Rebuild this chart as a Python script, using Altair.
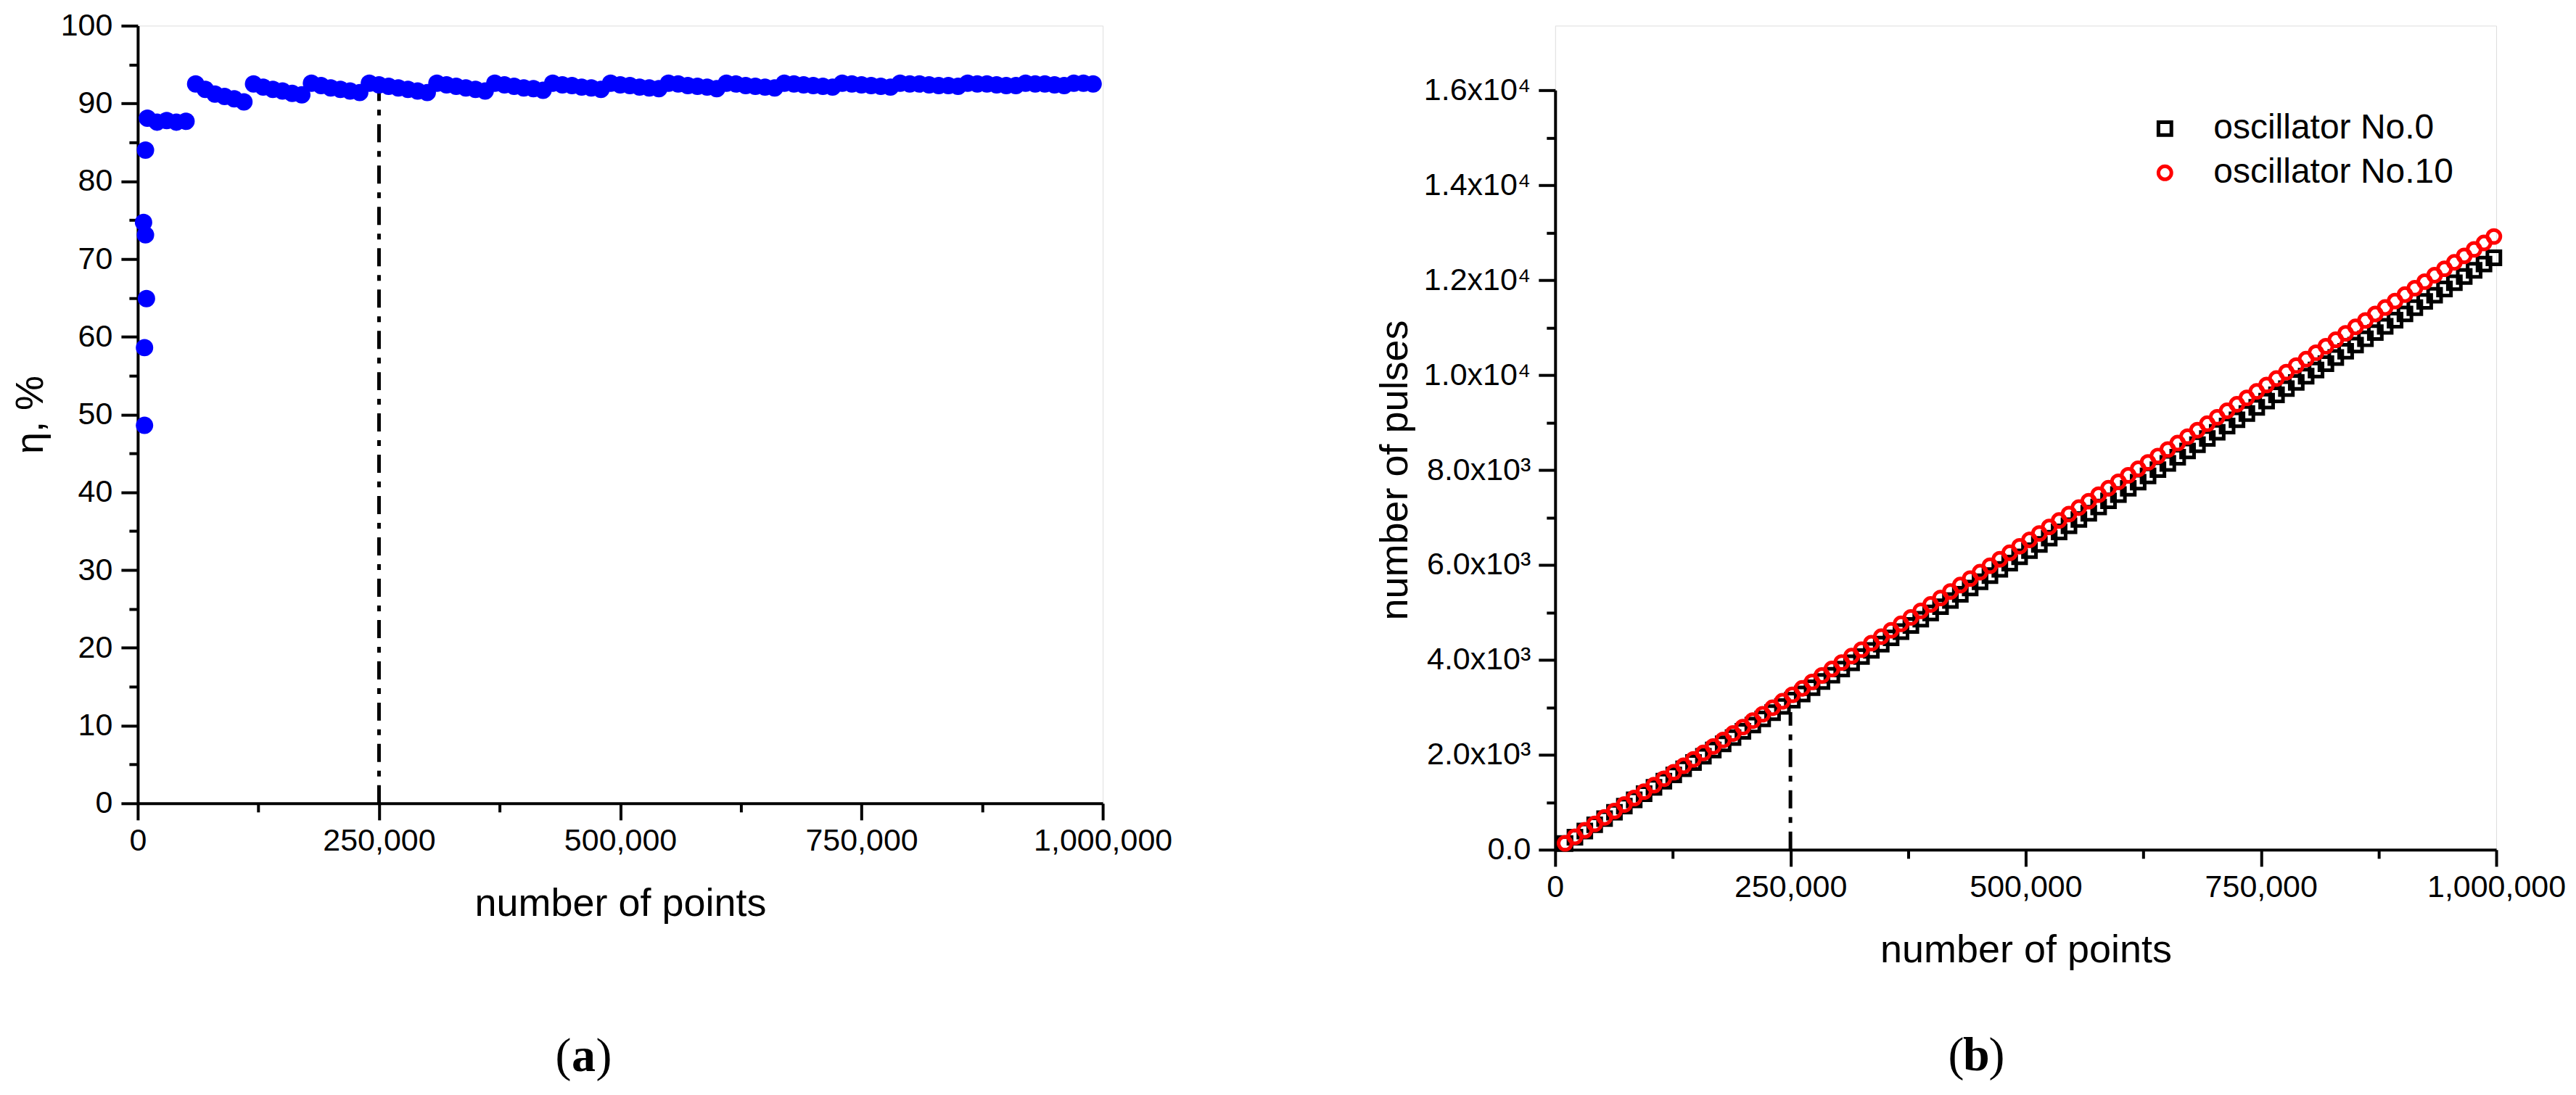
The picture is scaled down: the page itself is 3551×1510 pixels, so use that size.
import altair as alt
import pandas as pd

FONT = "Liberation Sans"
SERIF = "Liberation Serif"

# ---------------- panel (a): eta, % vs number of points ----------------
eta_x_thousands = [7, 7, 9, 6, 8, 8,
    10, 20, 30, 40, 50,
    60, 70, 80, 90, 100, 110,
    120, 130, 140, 150, 160, 170,
    180, 190, 200, 210, 220, 230,
    240, 250, 260, 270, 280, 290, 300,
    310, 320, 330, 340, 350, 360,
    370, 380, 390, 400, 410, 420,
    430, 440, 450, 460, 470, 480,
    490, 500, 510, 520, 530, 540,
    550, 560, 570, 580, 590, 600,
    610, 620, 630, 640, 650, 660,
    670, 680, 690, 700, 710, 720,
    730, 740, 750, 760, 770, 780,
    790, 800, 810, 820, 830, 840, 850,
    860, 870, 880, 890, 900, 910,
    920, 930, 940, 950, 960,
    970, 980, 990]
eta_values = [48.6, 58.6, 64.9, 74.7, 73.1, 84.0,
    88.1, 87.6, 87.8, 87.6, 87.7,
    92.5, 91.8, 91.2, 90.9, 90.6, 90.2,
    92.5, 92.1, 91.8, 91.6, 91.3, 91.1,
    92.6, 92.3, 92.0, 91.8, 91.6, 91.4,
    92.6, 92.4, 92.2, 92.0, 91.8, 91.6, 91.4,
    92.6, 92.4, 92.2, 92.0, 91.8, 91.6,
    92.6, 92.4, 92.2, 92.0, 91.9, 91.7,
    92.6, 92.4, 92.3, 92.1, 92.0, 91.8,
    92.6, 92.4, 92.3, 92.1, 92.0, 91.9,
    92.6, 92.5, 92.3, 92.2, 92.1, 91.9,
    92.6, 92.5, 92.3, 92.2, 92.1, 92.0,
    92.6, 92.5, 92.4, 92.3, 92.2, 92.1,
    92.6, 92.5, 92.4, 92.3, 92.2, 92.1,
    92.6, 92.5, 92.5, 92.4, 92.3, 92.3, 92.2,
    92.6, 92.5, 92.5, 92.4, 92.3, 92.3,
    92.6, 92.5, 92.5, 92.4, 92.3,
    92.6, 92.6, 92.5]

# ---------------- panel (b): number of pulses ----------------
pulse_x_thousands = [10.5, 21, 31.5, 42, 52.5, 63, 73.5, 84, 94.5, 105,
    115.5, 126, 136.5, 147, 157.5, 168, 178.5, 189, 199.5, 210,
    220.5, 231, 241.5, 252, 262.5, 273, 283.5, 294, 304.5, 315,
    325.5, 336, 346.5, 357, 367.5, 378, 388.5, 399, 409.5, 420,
    430.5, 441, 451.5, 462, 472.5, 483, 493.5, 504, 514.5, 525,
    535.5, 546, 556.5, 567, 577.5, 588, 598.5, 609, 619.5, 630,
    640.5, 651, 661.5, 672, 682.5, 693, 703.5, 714, 724.5, 735,
    745.5, 756, 766.5, 777, 787.5, 798, 808.5, 819, 829.5, 840,
    850.5, 861, 871.5, 882, 892.5, 903, 913.5, 924, 934.5, 945,
    955.5, 966, 976.5, 987, 997.5]
pulses_osc0 = [131, 263, 394, 525, 656, 788, 919, 1050, 1181, 1313,
    1444, 1575, 1706, 1838, 1969, 2100, 2231, 2363, 2494, 2625,
    2756, 2888, 3019, 3150, 3281, 3413, 3544, 3675, 3806, 3938,
    4069, 4200, 4331, 4463, 4594, 4725, 4856, 4988, 5119, 5250,
    5381, 5513, 5644, 5775, 5906, 6038, 6169, 6300, 6431, 6563,
    6694, 6825, 6956, 7088, 7219, 7350, 7481, 7613, 7744, 7875,
    8006, 8138, 8269, 8400, 8531, 8663, 8794, 8925, 9056, 9188,
    9319, 9450, 9581, 9713, 9844, 9975, 10106, 10238, 10369, 10500,
    10631, 10763, 10894, 11025, 11156, 11288, 11419, 11550, 11681, 11813,
    11944, 12075, 12206, 12338, 12469]
pulses_osc10 = [136, 272, 408, 544, 680, 816, 952, 1088, 1224, 1360,
    1496, 1632, 1768, 1904, 2040, 2176, 2312, 2448, 2584, 2720,
    2855, 2991, 3127, 3263, 3399, 3535, 3671, 3807, 3943, 4079,
    4215, 4351, 4487, 4623, 4759, 4895, 5031, 5167, 5303, 5439,
    5575, 5711, 5847, 5983, 6119, 6255, 6391, 6527, 6663, 6799,
    6935, 7071, 7207, 7343, 7479, 7615, 7751, 7887, 8023, 8159,
    8294, 8430, 8566, 8702, 8838, 8974, 9110, 9246, 9383, 9518,
    9654, 9790, 9926, 10062, 10198, 10334, 10470, 10606, 10742, 10878,
    11014, 11150, 11286, 11422, 11558, 11694, 11830, 11966, 12102, 12238,
    12374, 12510, 12646, 12782, 12918]
series_names = ["oscillator No.0", "oscillator No.10"]
series_colors = ["black", "red"]
series_shapes = ["square", "circle"]

# reference (dash-dot) line at 250,000 points
marker_x = [250000]
marker_top_a = [91.6]
marker_top_b = [2900]

x_ticks = [0, 125000, 250000, 375000, 500000, 625000, 750000, 875000, 1000000]
eta_ticks = [0, 5, 10, 15, 20, 25, 30, 35, 40, 45, 50, 55, 60, 65, 70, 75, 80, 85, 90, 95, 100]
pulse_ticks = [0, 1000, 2000, 3000, 4000, 5000, 6000, 7000, 8000, 9000, 10000,
               11000, 12000, 13000, 14000, 15000, 16000]
panel_labels = ["a", "b"]

# ---------------- tables ----------------
df_a = pd.DataFrame({"x": [v * 1000 for v in eta_x_thousands], "eta": eta_values})
df_b = pd.concat([
    pd.DataFrame({"x": [v * 1000 for v in pulse_x_thousands], "y": pulses_osc0, "series": series_names[0]}),
    pd.DataFrame({"x": [v * 1000 for v in pulse_x_thousands], "y": pulses_osc10, "series": series_names[1]}),
], ignore_index=True)
df_mark_a = pd.DataFrame({"x": marker_x, "y0": [0], "y1": marker_top_a})
df_mark_b = pd.DataFrame({"x": marker_x, "y0": [0], "y1": marker_top_b})


def major_minor(test, major, minor):
    return {"condition": {"test": test, "value": major}, "value": minor}


common_axis = dict(
    domainColor="black", domainWidth=4, tickColor="black", tickWidth=4,
    labelFont=FONT, labelFontSize=43, labelColor="black", labelLimit=600,
    titleFont=FONT, titleFontSize=54, titleFontWeight="normal", titleColor="black",
    grid=False, labelOverlap=False,
)

x_axis = alt.Axis(
    values=x_ticks,
    labelExpr="datum.value % 250000 === 0 ? format(datum.value, ',') : ''",
    tickSize=major_minor("datum.value % 250000 === 0", 23, 12),
    labelPadding=8, labelFlush=False, titlePadding=38,
    title="number of points", **common_axis,
)

eta_axis = alt.Axis(
    values=eta_ticks,
    labelExpr="datum.value % 10 === 0 ? format(datum.value, 'd') : ''",
    tickSize=major_minor("datum.value % 10 === 0", 23, 12),
    labelPadding=12, titlePadding=14,
    title="η, %", **common_axis,
)

pulse_axis = alt.Axis(
    values=pulse_ticks,
    labelExpr=("datum.value === 0 ? '0.0' : (datum.value % 2000 !== 0 ? '' : "
               "(datum.value < 10000 ? format(datum.value / 1000, '.1f') + 'x10³' : "
               "format(datum.value / 10000, '.1f') + 'x10⁴'))"),
    tickSize=major_minor("datum.value % 2000 === 0", 23, 12),
    labelPadding=11, titlePadding=12,
    title="number of pulses", **common_axis,
)

x_scale = alt.Scale(domain=[0, 1000000], nice=False, zero=False)


def panel_label(letter, cx, cy):
    base = alt.Chart(pd.DataFrame({"label": [letter]}))
    left_par = base.mark_text(text="(", font=SERIF, fontSize=66, align="right",
                              baseline="middle", color="black").encode(
        x=alt.value(cx - 17), y=alt.value(cy))
    mid = base.mark_text(font=SERIF, fontSize=66, fontWeight="bold", align="center",
                         baseline="middle", color="black").encode(
        x=alt.value(cx), y=alt.value(cy), text="label:N")
    right_par = base.mark_text(text=")", font=SERIF, fontSize=66, align="left",
                               baseline="middle", color="black").encode(
        x=alt.value(cx + 17), y=alt.value(cy))
    return [left_par, mid, right_par]


# ---------------- panel (a) chart ----------------
H_A = 1073
pts_a = alt.Chart(df_a).mark_circle(size=576, color="#0000ff", opacity=1).encode(
    x=alt.X("x:Q", scale=x_scale, axis=x_axis),
    y=alt.Y("eta:Q", scale=alt.Scale(domain=[0, 100], nice=False), axis=eta_axis),
)
rule_a = alt.Chart(df_mark_a).mark_rule(color="black", strokeWidth=5,
                                        strokeDash=[25, 12, 8, 12]).encode(
    x=alt.X("x:Q", scale=x_scale), y="y0:Q", y2="y1:Q")

chart_a = alt.layer(rule_a, pts_a, *panel_label(panel_labels[0], 615, 1422)).properties(
    width=1331, height=H_A)

# ---------------- panel (b) chart ----------------
H_B = 1137
Y_TOP_B = 89
pts_b = alt.Chart(df_b).mark_point(filled=False, size=320, strokeWidth=5, opacity=1).encode(
    x=alt.X("x:Q", scale=x_scale, axis=x_axis),
    y=alt.Y("y:Q", scale=alt.Scale(domain=[0, 16000], nice=False, range=[H_B, Y_TOP_B]),
            axis=pulse_axis),
    color=alt.Color("series:N", scale=alt.Scale(domain=series_names, range=series_colors),
                    legend=None),
    shape=alt.Shape("series:N", scale=alt.Scale(domain=series_names, range=series_shapes),
                    legend=None),
)
rule_b = alt.Chart(df_mark_b).mark_rule(color="black", strokeWidth=5,
                                        strokeDash=[25, 12, 8, 12]).encode(
    x=alt.X("x:Q", scale=x_scale), y="y0:Q", y2="y1:Q")

# in-plot legend (top right of panel b)
legend_layers = []
for i, name in enumerate(series_names):
    row = alt.Chart(pd.DataFrame({"series": [name]}))
    ly = 142 + 61 * i
    legend_layers.append(
        row.mark_point(shape=series_shapes[i], filled=False, size=320, strokeWidth=5,
                       color=series_colors[i], opacity=1).encode(
            x=alt.value(841), y=alt.value(ly)))
    legend_layers.append(
        row.mark_text(font=FONT, fontSize=48, align="left", baseline="middle",
                      color="black").encode(
            x=alt.value(908), y=alt.value(ly), text="series:N"))

chart_b = alt.layer(rule_b, pts_b, *legend_layers,
                    *panel_label(panel_labels[1], 581, 1421)).properties(
    width=1298, height=H_B)

chart = alt.hconcat(chart_a, chart_b, spacing=624, bounds="flush").properties(
    padding={"left": 6, "top": 5, "right": 5, "bottom": 5}
).configure_view(stroke=None).configure(background="white")

chart.save("out.html", embed_options={"renderer": "svg", "actions": False})
